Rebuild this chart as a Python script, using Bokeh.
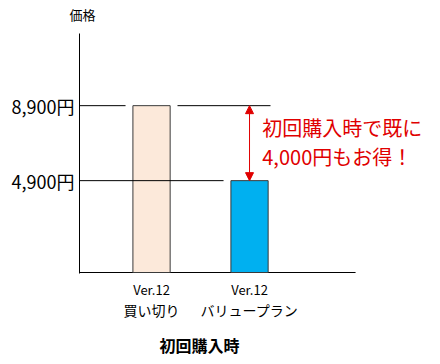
from bokeh.plotting import figure
from bokeh.models import (Range1d, FixedTicker, Arrow, NormalHead, LinearAxis, Label)
from bokeh.embed import file_html
from bokeh.resources import INLINE

# data
positions = [1, 2]
ver_labels = ["Ver.12", "Ver.12"]
plan_labels = ["買い切り", "バリュープラン"]
prices = [8900, 4900]
price_labels = ["8,900円", "4,900円"]
bar_colors = ["#FCE9DA", "#00B0F0"]
x_title = "初回購入時"
y_title = "価格"
note_lines = ["初回購入時で既に", "4,000円もお得！"]

FONT = "Noto Sans CJK JP"
UNIT = 4000 / 75.0  # value per pixel
X0 = 0.265          # left edge of plot (data)
XAXIS_END = 3.082   # end of drawn x axis line (data)


def plain_axis(ticks, labels, size, standoff, bold=False):
    return LinearAxis(ticker=FixedTicker(ticks=ticks),
                      major_label_overrides={v: s for v, s in zip(ticks, labels)},
                      major_label_text_font=FONT, major_label_text_font_size=size,
                      major_label_text_font_style="bold" if bold else "normal",
                      major_label_text_color="#000000", major_label_standoff=standoff,
                      major_tick_out=0, major_tick_in=0, minor_tick_out=0, minor_tick_in=0,
                      axis_line_color=None)


p = figure(width=438, height=362, output_backend="svg", toolbar_location=None,
           x_range=Range1d(X0, X0 + 353 / 98.0), y_range=Range1d(-UNIT, 12750),
           min_border_left=79, min_border_right=6, min_border_top=33, min_border_bottom=89)
p.outline_line_color = None
p.grid.visible = False

# y axis
p.yaxis.ticker = FixedTicker(ticks=prices)
p.yaxis.major_label_overrides = {v: s for v, s in zip(prices, price_labels)}
p.yaxis.major_label_text_font = FONT
p.yaxis.major_label_text_font_size = "18px"
p.yaxis.major_label_text_color = "#000000"
p.yaxis.major_tick_out = 0
p.yaxis.major_tick_in = 0
p.yaxis.minor_tick_out = 0
p.yaxis.minor_tick_in = 0
p.yaxis.major_label_standoff = 5
p.yaxis.axis_line_color = "#000000"

# x axis (first line of category labels)
p.xaxis.ticker = FixedTicker(ticks=positions)
p.xaxis.major_label_overrides = {v: s for v, s in zip(positions, ver_labels)}
p.xaxis.major_label_text_font = FONT
p.xaxis.major_label_text_font_size = "13px"
p.xaxis.major_label_text_color = "#000000"
p.xaxis.major_tick_out = 0
p.xaxis.major_tick_in = 0
p.xaxis.minor_tick_out = 0
p.xaxis.minor_tick_in = 0
p.xaxis.major_label_standoff = 6
p.xaxis.axis_line_color = None

# second line of category labels
p.add_layout(plain_axis(positions, plan_labels, "14px", -2), "below")
# x title
title_x = 1.49
p.add_layout(plain_axis([title_x], [x_title], "16px", 10, bold=True), "below")
# y title above the axis
ytitle_x = X0 + 3 / 98.0
p.add_layout(plain_axis([ytitle_x], [y_title], "13px", 10), "above")

# drawn x axis line
p.segment(x0=[X0], y0=[0], x1=[XAXIS_END], y1=[0], line_color="#000000", line_width=1)

# bars
p.vbar(x=positions, top=prices, width=0.38, bottom=0, fill_color=bar_colors,
       line_color="#3a3a3a", line_width=1)

# reference lines with gaps around bars
gap = 0.265
ext = 0.214
p.segment(x0=[X0, positions[0] + gap], y0=[prices[0]] * 2,
          x1=[positions[0] - gap, positions[1] + ext], y1=[prices[0]] * 2,
          line_color="#000000", line_width=1)
p.segment(x0=[X0], y0=[prices[1]], x1=[positions[1] - gap], y1=[prices[1]],
          line_color="#000000", line_width=1)

# arrow
p.add_layout(Arrow(start=NormalHead(size=8, fill_color="#E00000", line_color="#E00000"),
                   end=NormalHead(size=8, fill_color="#E00000", line_color="#E00000"),
                   x_start=positions[1], y_start=prices[1], x_end=positions[1], y_end=prices[0],
                   line_color="#E00000", line_width=1))

# note text
for i, t in enumerate(note_lines):
    p.add_layout(Label(x=positions[1] + 0.13, y=(272 - 127 - 29 * i) * UNIT, text=t,
                       text_font=FONT, text_font_size="20px", text_color="#E00000",
                       text_baseline="middle", text_align="left"))

open("out.html", "w").write(file_html(p, INLINE))
